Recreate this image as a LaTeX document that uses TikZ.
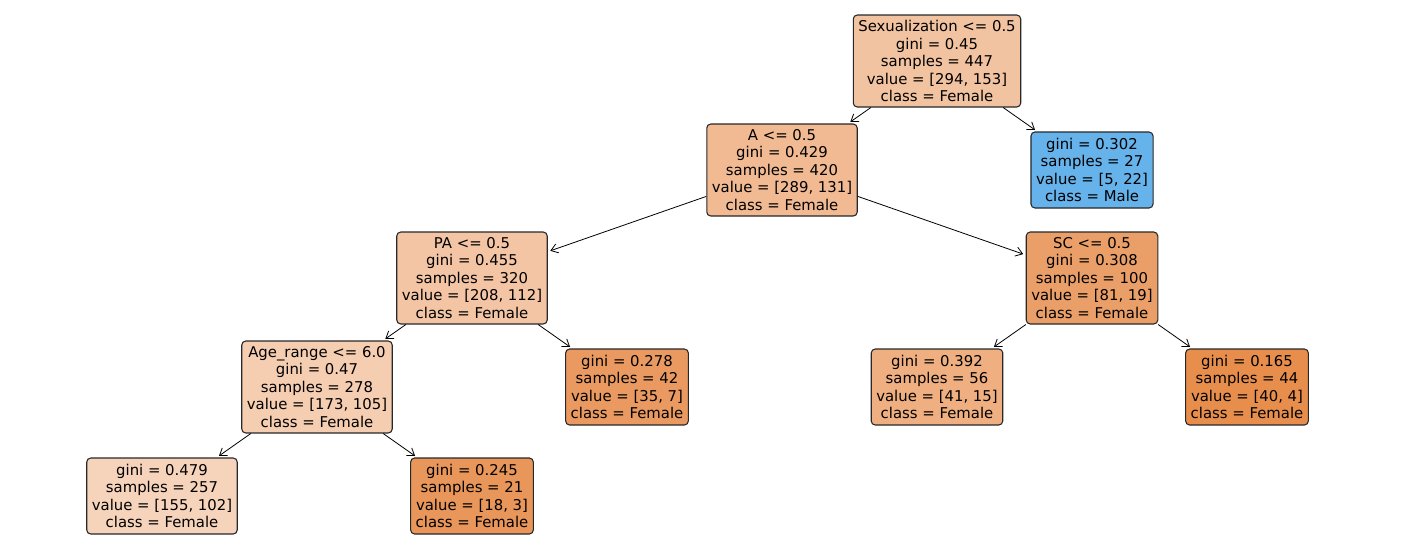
\documentclass[tikz,border=0pt]{standalone}
\usepackage{fontspec}
\setmainfont{DejaVu Sans}
\usetikzlibrary{arrows.meta}
\definecolor{cRoot}{RGB}{242,195,160}
\definecolor{cA}{RGB}{241,186,147}
\definecolor{cMale}{RGB}{102,179,235}
\definecolor{cPA}{RGB}{243,197,164}
\definecolor{cSC}{RGB}{235,159,104}
\definecolor{cAge}{RGB}{245,205,177}
\definecolor{cPAleaf}{RGB}{234,154,97}
\definecolor{cSCl}{RGB}{239,175,129}
\definecolor{cSCr}{RGB}{232,142,77}
\definecolor{cAgel}{RGB}{246,212,187}
\definecolor{cAger}{RGB}{233,150,90}
\definecolor{edgegray}{RGB}{40,40,40}
\tikzset{
  treebox/.style={draw=edgegray, line width=0.8pt, rounded corners=3pt,
    align=center, inner xsep=3.8pt, inner ysep=0pt,
    font=\fontsize{11.15}{13.1}\selectfont},
  split/.style={treebox, minimum height=69pt},
  leaf/.style={treebox, minimum height=57pt},
  link/.style={-{Straight Barb[length=5pt,width=7pt]}, line width=0.6pt, black, shorten >=2pt}
}
\begin{document}
\begin{tikzpicture}[x=0.75pt,y=-0.75pt]
\useasboundingbox (0,0) rectangle (1409,558);
% split nodes
\node[split, fill=cRoot] (root) at (937,61) {Sexualization <= 0.5\\gini = 0.45\\samples = 447\\value = [294, 153]\\class = Female};
\node[split, fill=cA] (A) at (782,170) {A <= 0.5\\gini = 0.429\\samples = 420\\value = [289, 131]\\class = Female};
\node[leaf, fill=cMale] (male) at (1092,170) {gini = 0.302\\samples = 27\\value = [5, 22]\\class = Male};
\node[split, fill=cPA] (PA) at (472,278) {PA <= 0.5\\gini = 0.455\\samples = 320\\value = [208, 112]\\class = Female};
\node[split, fill=cSC] (SC) at (1092,278) {SC <= 0.5\\gini = 0.308\\samples = 100\\value = [81, 19]\\class = Female};
\node[split, fill=cAge] (age) at (317,387) {Age\_range <= 6.0\\gini = 0.47\\samples = 278\\value = [173, 105]\\class = Female};
% leaves
\node[leaf, fill=cPAleaf] (paleaf) at (627,387) {gini = 0.278\\samples = 42\\value = [35, 7]\\class = Female};
\node[leaf, fill=cSCl] (scl) at (937,387) {gini = 0.392\\samples = 56\\value = [41, 15]\\class = Female};
\node[leaf, fill=cSCr] (scr) at (1247,387) {gini = 0.165\\samples = 44\\value = [40, 4]\\class = Female};
\node[leaf, fill=cAgel] (agel) at (162,496) {gini = 0.479\\samples = 257\\value = [155, 102]\\class = Female};
\node[leaf, fill=cAger] (ager) at (472,496) {gini = 0.245\\samples = 21\\value = [18, 3]\\class = Female};
% edges
\draw[link] (root) -- (A);
\draw[link] (root) -- (male);
\draw[link] (A) -- (PA);
\draw[link] (A) -- (SC);
\draw[link] (PA) -- (age);
\draw[link] (PA) -- (paleaf);
\draw[link] (SC) -- (scl);
\draw[link] (SC) -- (scr);
\draw[link] (age) -- (agel);
\draw[link] (age) -- (ager);
\end{tikzpicture}
\end{document}
